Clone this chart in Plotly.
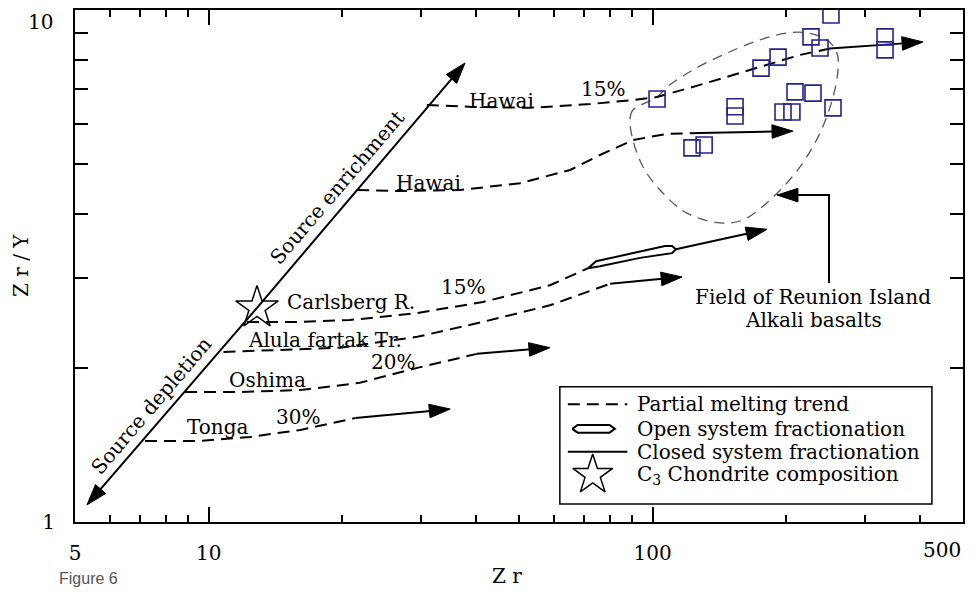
import numpy as np
import plotly.graph_objects as go

# ---------------- data (Zr in ppm, Zr/Y ratio) ----------------
reunion_zr = [102.3, 175.4, 191.6, 227.3, 238.2, 252.1, 333.7, 333.7, 209.2, 229.7,
              254.8, 153.3, 153.3, 196.6, 205.9, 122.6, 130.6]
reunion_zry = [6.70, 7.70, 8.09, 8.86, 8.43, 9.78, 8.86, 8.36, 6.92, 6.88,
               6.44, 6.47, 6.21, 6.32, 6.32, 5.38, 5.45]

chondrite_zr = [12.85]
chondrite_zry = [2.62]

enrich_zr = [12.85, 37.8]
enrich_zry = [2.62, 7.88]
deplete_zr = [12.85, 5.32]
deplete_zry = [2.62, 1.08]

# partial melting trends (dashed)
hawai1_zr = [31.0, 38.8, 52.9, 72.3, 90.3, 102.3, 127.8, 175.4, 214.7, 250.9]
hawai1_zry = [6.52, 6.47, 6.44, 6.55, 6.67, 6.76, 7.14, 7.74, 8.17, 8.41]
hawai2_zr = [21.6, 27.0, 36.8, 50.3, 65.2, 76.1, 90.3, 107.7, 127.8]
hawai2_zry = [4.45, 4.43, 4.45, 4.59, 4.87, 5.21, 5.57, 5.73, 5.75]
carls_zr = [12.2, 16.1, 20.8, 29.5, 41.5, 58.7, 71.5]
carls_zry = [2.459, 2.459, 2.48, 2.56, 2.69, 2.90, 3.13]
alula_zr = [10.8, 14.5, 19.8, 29.5, 41.5, 58.7, 76.1, 80.2]
alula_zry = [2.148, 2.17, 2.19, 2.30, 2.46, 2.65, 2.88, 2.92]
oshima_zr = [8.85, 11.8, 16.1, 21.9, 29.5, 40.2]
oshima_zry = [1.794, 1.794, 1.81, 1.87, 2.00, 2.13]
tonga_zr = [7.19, 9.56, 12.4, 16.1, 21.4]
tonga_zry = [1.440, 1.440, 1.466, 1.513, 1.596]

# open system fractionation (lens)
lens_zr = [71.5, 74.6, 88.9, 106.6, 110.6, 112.8, 110.6, 93.7, 76.1, 71.5]
lens_zry = [3.13, 3.23, 3.34, 3.46, 3.46, 3.41, 3.35, 3.28, 3.16, 3.13]

# closed system fractionation arrows (start, end)
arrows = {
    "hawai1": ([250.9, 406.3], [8.41, 8.66]),
    "hawai2": ([127.8, 207.0], [5.75, 5.80]),
    "lens": ([112.8, 181.0], [3.41, 3.73]),
    "alula": ([80.2, 116.5], [2.92, 3.01]),
    "oshima": ([40.2, 58.7], [2.13, 2.19]),
    "tonga": ([21.4, 35.0], [1.596, 1.662]),
}

# field of Reunion Island alkali basalts
field_zr = [102.3, 90.3, 88.9, 90.3, 95.1, 103.9, 119.5, 141.8, 159.8, 186.7, 214.7,
            238.2, 254.8, 261.5, 260.1, 247.0, 222.6, 200.7, 174.5, 147.0, 123.3, 107.7, 102.3]
field_zry = [6.76, 6.38, 6.10, 5.57, 4.94, 4.45, 4.01, 3.84, 3.89, 4.31, 4.94,
             5.75, 6.76, 7.64, 8.24, 8.74, 9.02, 9.02, 8.74, 8.24, 7.64, 7.07, 6.76]
pointer_zr = [249.6, 249.6, 190.6]
pointer_zry = [2.93, 4.35, 4.35]

# text labels (Zr, Zr/Y, text, angle)
labels = [
    (45.6, 6.64, "Hawai", 0),
    (77.3, 7.01, "15%", 0),
    (31.2, 4.59, "Hawai", 0),
    (20.9, 2.69, "Carlsberg R.", 0),
    (37.4, 2.88, "15%", 0),
    (18.3, 2.27, "Alula fartak Tr.", 0),
    (26.0, 2.05, "20%", 0),
    (13.6, 1.89, "Oshima", 0),
    (10.5, 1.53, "Tonga", 0),
    (15.9, 1.60, "30%", 0),
    (19.5, 4.51, "Source enrichment", -49.5),
    (7.45, 1.69, "Source depletion", -49.5),
    (229.7, 2.75, "Field of Reunion Island", 0),
    (229.7, 2.48, "Alkali basalts", 0),
]

x_ticks = [5, 10, 100]
x_minor = [6, 7, 8, 9, 20, 30, 40, 50, 60, 70, 80, 90, 200, 300, 400]
y_ticks = [1, 10]
y_minor = [2, 3, 4, 5, 6, 7, 8, 9]

legend_items = ["Partial melting trend", "Open system fractionation",
                "Closed system fractionation", "C<sub>3</sub> Chondrite composition"]

# ---------------- figure ----------------
SERIF = "DejaVu Serif"
FS = 20
DASH = "12px,7px"
fig = go.Figure()


def line(x, y, dash=None, width=2, color="black", shape="linear", xa="x", ya="y"):
    fig.add_trace(go.Scatter(x=x, y=y, mode="lines", xaxis=xa, yaxis=ya,
                             line=dict(color=color, width=width, dash=dash, shape=shape),
                             hoverinfo="skip", showlegend=False))


def arrow(x, y, width=2):
    sizes = [0] * (len(x) - 1) + [22]
    fig.add_trace(go.Scatter(x=x, y=y, mode="lines+markers",
                             line=dict(color="black", width=width),
                             marker=dict(symbol="arrow", size=sizes, angleref="previous",
                                         color="black", opacity=1,
                                         line=dict(color="black", width=1)),
                             hoverinfo="skip", showlegend=False))


# field outline
line(field_zr, field_zry, dash="10px,7px", width=1.3, color="#555555", shape="spline")

# melting trends
for xs, ys in [(hawai1_zr, hawai1_zry), (hawai2_zr, hawai2_zry), (carls_zr, carls_zry),
               (alula_zr, alula_zry), (oshima_zr, oshima_zry), (tonga_zr, tonga_zry)]:
    line(xs, ys, dash=DASH, width=2)

# lens
fig.add_trace(go.Scatter(x=lens_zr, y=lens_zry, mode="lines", fill="toself",
                         fillcolor="white", line=dict(color="black", width=2),
                         hoverinfo="skip", showlegend=False))

# arrows
arrow(enrich_zr, enrich_zry)
arrow(deplete_zr, deplete_zry)
for xs, ys in arrows.values():
    arrow(xs, ys)
arrow(pointer_zr, pointer_zry)

# data points
fig.add_trace(go.Scatter(x=reunion_zr, y=reunion_zry, mode="markers",
                         marker=dict(symbol="square-open", size=16, color="#23238f",
                                     line=dict(width=1.6)),
                         hoverinfo="skip", showlegend=False))
fig.add_trace(go.Scatter(x=chondrite_zr, y=chondrite_zry, mode="markers",
                         marker=dict(symbol="star-open", size=32, color="black",
                                     line=dict(width=1.5)),
                         hoverinfo="skip", showlegend=False))

# ---------------- manual legend (overlay axes 0..1) ----------------
lx0, lx1 = 0.555, 0.622
rows = [0.230, 0.182, 0.137, 0.092]
line([lx0, lx1], [rows[0], rows[0]], dash=DASH, width=2, xa="x2", ya="y2")
fig.add_trace(go.Scatter(
    x=[0.560, 0.566, 0.602, 0.608, 0.602, 0.566, 0.560],
    y=[rows[1], rows[1] + 0.0075, rows[1] + 0.0075, rows[1], rows[1] - 0.0075,
       rows[1] - 0.0075, rows[1]],
    mode="lines", fill="toself", fillcolor="white", line=dict(color="black", width=2),
    xaxis="x2", yaxis="y2", hoverinfo="skip", showlegend=False))
line([lx0, lx1], [rows[2], rows[2]], width=2, xa="x2", ya="y2")
fig.add_trace(go.Scatter(x=[0.583], y=[rows[3]], mode="markers", xaxis="x2", yaxis="y2",
                         marker=dict(symbol="star-open", size=30, color="black",
                                     line=dict(width=1.5)),
                         hoverinfo="skip", showlegend=False))

annotations = []
for txt, ry in zip(legend_items, rows):
    annotations.append(dict(xref="paper", yref="paper", x=0.631, y=ry, text=txt,
                            showarrow=False, xanchor="left", yanchor="middle",
                            font=dict(family=SERIF, size=FS, color="black")))

for zx, zy, txt, ang in labels:
    annotations.append(dict(xref="x", yref="y", x=np.log10(zx), y=np.log10(zy), text=txt,
                            showarrow=False, textangle=ang, xanchor="center",
                            yanchor="middle",
                            font=dict(family=SERIF, size=FS, color="black")))

# axis titles, edge tick labels, figure caption
annotations += [
    dict(xref="paper", yref="paper", x=0.486, y=-0.1055, text="Z r", showarrow=False,
         xanchor="center", yanchor="middle",
         font=dict(family=SERIF, size=FS, color="black")),
    dict(xref="paper", yref="paper", x=-0.0608, y=0.50, text="Z r / Y", showarrow=False,
         textangle=-90, xanchor="center", yanchor="middle",
         font=dict(family=SERIF, size=FS, color="black")),
    dict(xref="paper", yref="paper", x=1.0, y=0, yshift=-28, text="500", showarrow=False,
         xanchor="right", yanchor="middle", font=dict(family=SERIF, size=FS, color="black")),
    dict(xref="paper", yref="paper", x=0, y=1, xshift=-20, yshift=-12, text="10",
         showarrow=False, xanchor="right", yanchor="middle",
         font=dict(family=SERIF, size=FS, color="black")),
    dict(xref="paper", yref="paper", x=-0.02, y=-0.131, text="Figure 6", showarrow=False,
         xanchor="left", yanchor="bottom",
         font=dict(family="Liberation Sans", size=16, color="#555555")),
]

shapes = [dict(type="rect", xref="paper", yref="paper", x0=0.546, x1=0.965, y0=0.035,
               y1=0.264, line=dict(color="black", width=1.5), fillcolor="white",
               layer="below")]

axis_common = dict(type="log", showgrid=False, zeroline=False, showline=True,
                   linecolor="black", linewidth=2, mirror="ticks", ticks="inside",
                   tickcolor="black", tickwidth=2,
                   tickfont=dict(family=SERIF, size=FS, color="black"))

# page body has an 8px default margin: size the figure so the plot area lands
# at x 75..963, y 10..522 of the 979x597 window
fig.update_layout(
    width=963, height=581,
    margin=dict(l=67, r=8, t=2, b=67, autoexpand=False),
    paper_bgcolor="white", plot_bgcolor="white",
    xaxis=dict(**axis_common, range=[np.log10(5), np.log10(500)],
               tickmode="array", tickvals=x_ticks, ticktext=[str(v) for v in x_ticks],
               ticklen=15, ticklabelstandoff=12,
               minor=dict(tickmode="array", tickvals=x_minor, ticks="inside", ticklen=7,
                          tickwidth=2, tickcolor="black")),
    yaxis=dict(**axis_common, range=[0, 1],
               tickmode="array", tickvals=[1], ticktext=["1"],
               ticklen=13, ticklabelstandoff=14,
               minor=dict(tickmode="array", tickvals=y_minor, ticks="inside", ticklen=13,
                          tickwidth=2, tickcolor="black")),
    xaxis2=dict(overlaying="x", range=[0, 1], visible=False, fixedrange=True),
    yaxis2=dict(overlaying="y", range=[0, 1], visible=False, fixedrange=True),
    annotations=annotations,
    shapes=shapes,
    showlegend=False,
)

fig.write_html("out.html")
